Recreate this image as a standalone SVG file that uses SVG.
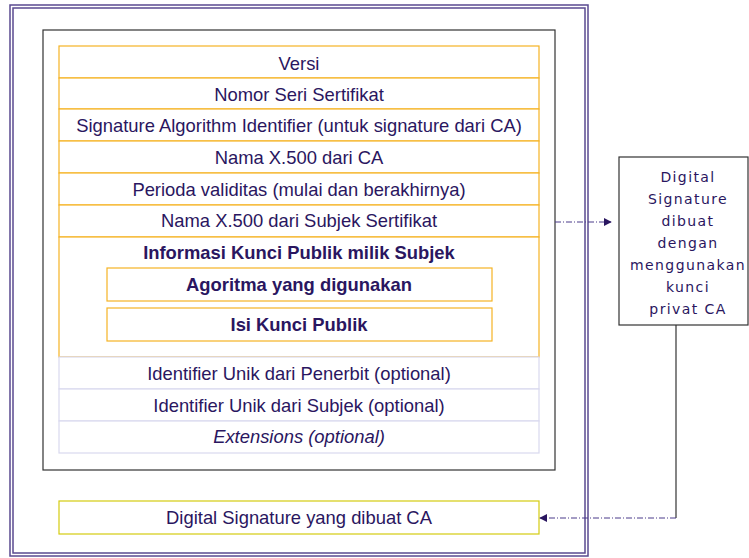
<svg xmlns="http://www.w3.org/2000/svg" width="749" height="558" viewBox="0 0 749 558">
<defs>
<style>
.t{font-family:"Liberation Sans",Arial,sans-serif;font-size:18.4px;fill:#2a1660;text-anchor:middle}
.b{font-weight:bold}
.i{font-style:italic}
.or{fill:#fff;stroke:#f5b324;stroke-width:1.2}
.lv{fill:#fff;stroke:#d9d9ef;stroke-width:1.2}
.d{font-family:"DejaVu Sans",sans-serif;font-size:14px;fill:#2a1660;text-anchor:middle;letter-spacing:1.4px}
.dash{fill:none;stroke:#4a3a8a;stroke-width:1;stroke-dasharray:6 2 1 2}
</style>
<marker id="ah" viewBox="0 0 10 10" refX="9" refY="5" markerWidth="8" markerHeight="8" markerUnits="userSpaceOnUse" orient="auto">
<path d="M0,0 L10,5 L0,10 z" fill="#2a1660"/>
</marker>
</defs>
<rect width="749" height="558" fill="#fff"/>
<g id="frame">
<rect x="10" y="5" width="578" height="551" fill="none" stroke="#5a4a90" stroke-width="1.5"/>
<rect x="13" y="8" width="572" height="545" fill="none" stroke="#5a4a90" stroke-width="1.5"/>
</g>
<g id="certificate">
<rect x="43" y="30" width="512" height="440" fill="none" stroke="#333" stroke-width="1.2"/>
</g>
<g id="row-versi"><rect class="or" x="59" y="46" width="480" height="32"/><text class="t" x="299" y="70">Versi</text></g>
<g id="row-nomor"><rect class="or" x="59" y="78" width="480" height="31"/><text class="t" x="299" y="101">Nomor Seri Sertifikat</text></g>
<g id="row-sigalg"><rect class="or" x="59" y="109" width="480" height="32"/><text class="t" x="299" y="132">Signature Algorithm Identifier (untuk signature dari CA)</text></g>
<g id="row-namaca"><rect class="or" x="59" y="141" width="480" height="32"/><text class="t" x="299" y="164">Nama X.500 dari CA</text></g>
<g id="row-perioda"><rect class="or" x="59" y="173" width="480" height="32"/><text class="t" x="299" y="196">Perioda validitas (mulai dan berakhirnya)</text></g>
<g id="row-namasubjek"><rect class="or" x="59" y="205" width="480" height="32"/><text class="t" x="299" y="227">Nama X.500 dari Subjek Sertifikat</text></g>
<g id="row-info"><rect class="or" x="59" y="237" width="480" height="120"/><text class="t b" x="299" y="259">Informasi Kunci Publik milik Subjek</text></g>
<g id="row-algoritma"><rect class="or" x="107" y="268" width="385" height="33"/><text class="t b" x="299" y="291">Agoritma yang digunakan</text></g>
<g id="row-isi"><rect class="or" x="107" y="308" width="385" height="33"/><text class="t b" x="299" y="331">Isi Kunci Publik</text></g>
<g id="row-idpenerbit"><rect class="lv" x="59" y="357" width="480" height="32"/><text class="t" x="299" y="380">Identifier Unik dari Penerbit (optional)</text></g>
<g id="row-idsubjek"><rect class="lv" x="59" y="389" width="480" height="32"/><text class="t" x="299" y="412">Identifier Unik dari Subjek (optional)</text></g>
<g id="row-ext"><rect class="lv" x="59" y="421" width="480" height="32"/><text class="t i" x="299" y="443">Extensions (optional)</text></g>
<g id="ds-ca"><rect x="59" y="501" width="480" height="33" fill="#fff" stroke="#d4cc10" stroke-width="1.2"/><text class="t" x="299" y="524">Digital Signature yang dibuat CA</text></g>
<g id="ds-box">
<rect x="619" y="157" width="129" height="168" fill="#fff" stroke="#333" stroke-width="1.2"/>
<text class="d" x="688" y="182">Digital</text>
<text class="d" x="688" y="204">Signature</text>
<text class="d" x="688" y="226">dibuat</text>
<text class="d" x="688" y="248">dengan</text>
<text class="d" x="688" y="270">menggunakan</text>
<text class="d" x="688" y="292">kunci</text>
<text class="d" x="688" y="314">privat CA</text>
</g>
<g id="connectors">
<path class="dash" d="M555,222 L611,222" marker-end="url(#ah)"/>
<path d="M676,325 L676,518" fill="none" stroke="#333" stroke-width="1.2"/>
<path class="dash" d="M676,518 L540,518" marker-end="url(#ah)"/>
</g>
</svg>
